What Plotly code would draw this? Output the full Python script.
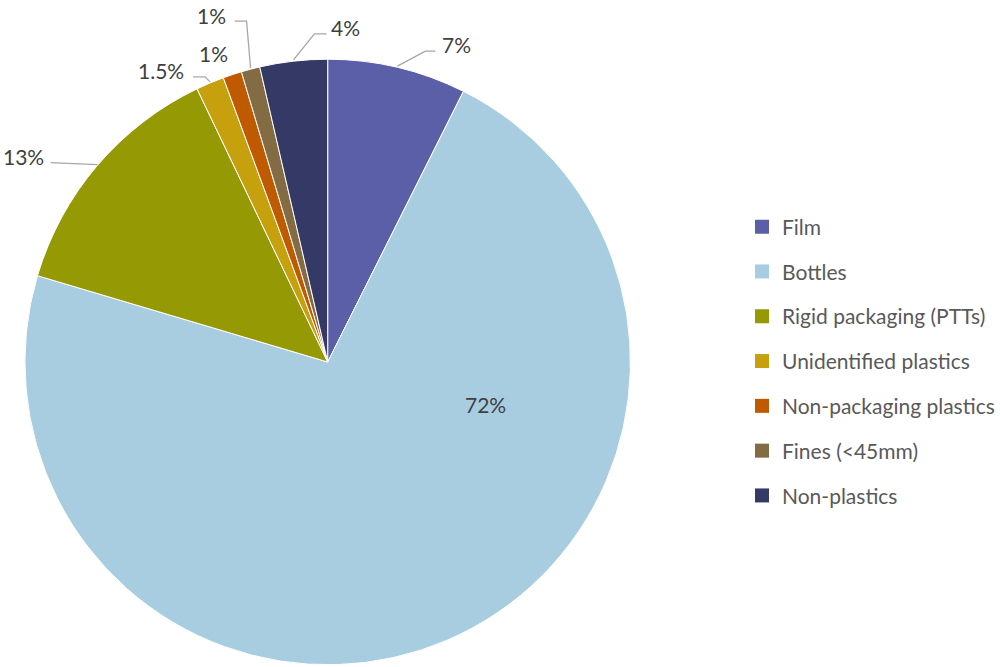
import numpy as np
import plotly.graph_objects as go

# ---------------- data ----------------
categories = ["Film", "Bottles", "Rigid packaging (PTTs)", "Unidentified plastics",
              "Non-packaging plastics", "Fines (<45mm)", "Non-plastics"]
values = [7.4, 72.2, 13.3, 1.5, 1.0, 1.0, 3.6]
value_labels = ["7%", "72%", "13%", "1.5%", "1%", "1%", "4%"]

# ---------------- style ----------------
colors = ["#5a5fa8", "#a8cde0", "#959a04", "#c7a00e", "#c05a00", "#836c44", "#343965"]
W, H = 1000, 667
CX, CY, R = 329, 362, 304          # pie centre / radius in pixels
FONT = "Lato"
LABEL_COLOR = "#404040"
LEGEND_COLOR = "#595959"
LEADER_COLOR = "#a6a6a6"

# label layout per slice, pixel offsets relative to the slice's outer-edge anchor:
# (elbow dx, elbow dy, end dx, text dx, text dy, xanchor) ; "inside" for the big slice
label_layout = [
    (28, -15, 38, 43, -22, "left"),
    "inside",
    (-47, -2, -47, -52, -8, "right"),
    (-5, -5, -17, -24, -11, "right"),
    None,                                  # label without leader line
    (-4, -47, -16, -23, -53, "right"),
    (21, -26, 33, 36, -32, "left"),
]
inside_offset = (158, 42)                   # from pie centre
noline_offset = (-2, -20)

def px(x):
    return x / W

def py(y):
    return 1 - y / H

fig = go.Figure()
fig.add_trace(go.Pie(
    labels=categories, values=values, sort=False, direction="clockwise", rotation=0,
    marker=dict(colors=colors, line=dict(color="white", width=1)),
    textinfo="none", hoverinfo="label+percent", showlegend=False,
    domain=dict(x=[px(CX - R), px(CX + R)], y=[py(CY + R), py(CY - R)]),
))

# legend via dummy traces (to control spacing)
for cat, col in zip(categories, colors):
    fig.add_trace(go.Scatter(x=[None], y=[None], mode="markers", name=cat,
                             legendgroup=cat,
                             marker=dict(symbol="square", size=14, color=col)))

# labels + leader lines computed from the slice angles
total = sum(values)
cum = np.cumsum([0] + values[:-1])
shapes, annotations = [], []
for i, v in enumerate(values):
    mid = (cum[i] + v / 2) / total * 2 * np.pi
    ax_ = CX + R * np.sin(mid)
    ay_ = CY - R * np.cos(mid)
    lay = label_layout[i]
    if lay == "inside":
        tx, ty = CX + inside_offset[0], CY + inside_offset[1]
        annotations.append(dict(x=px(tx), y=py(ty), xref="paper", yref="paper",
                                text=value_labels[i], showarrow=False,
                                font=dict(family=FONT, size=21, color=LABEL_COLOR),
                                xanchor="center", yanchor="middle"))
        continue
    if lay is None:
        tx, ty = ax_ + noline_offset[0], ay_ + noline_offset[1]
        annotations.append(dict(x=px(tx), y=py(ty), xref="paper", yref="paper",
                                text=value_labels[i], showarrow=False,
                                font=dict(family=FONT, size=21, color=LABEL_COLOR),
                                xanchor="right", yanchor="middle"))
        continue
    edx, edy, endx, tdx, tdy, xa = lay
    ex, ey = ax_ + edx, ay_ + edy
    fx = ax_ + endx
    path = f"M {px(ax_)} {py(ay_)} L {px(ex)} {py(ey)} L {px(fx)} {py(ey)}"
    shapes.append(dict(type="path", path=path, xref="paper", yref="paper",
                       line=dict(color=LEADER_COLOR, width=1.3)))
    annotations.append(dict(x=px(ax_ + tdx), y=py(ay_ + tdy), xref="paper", yref="paper",
                            text=value_labels[i], showarrow=False,
                            font=dict(family=FONT, size=21, color=LABEL_COLOR),
                            xanchor=xa, yanchor="middle"))

fig.update_layout(
    width=W, height=H,
    margin=dict(l=0, r=0, t=0, b=0),
    paper_bgcolor="white", plot_bgcolor="white",
    xaxis=dict(visible=False), yaxis=dict(visible=False),
    shapes=shapes, annotations=annotations,
    showlegend=True,
    legend=dict(x=px(745), y=py(206.5), xanchor="left", yanchor="top",
                font=dict(family=FONT, size=21, color=LEGEND_COLOR),
                tracegroupgap=14.5, bgcolor="rgba(0,0,0,0)", itemclick=False),
)

fig.write_html("out.html", config={"displayModeBar": False},
               post_script="document.body.style.margin='0px';document.body.style.overflow='hidden';")
